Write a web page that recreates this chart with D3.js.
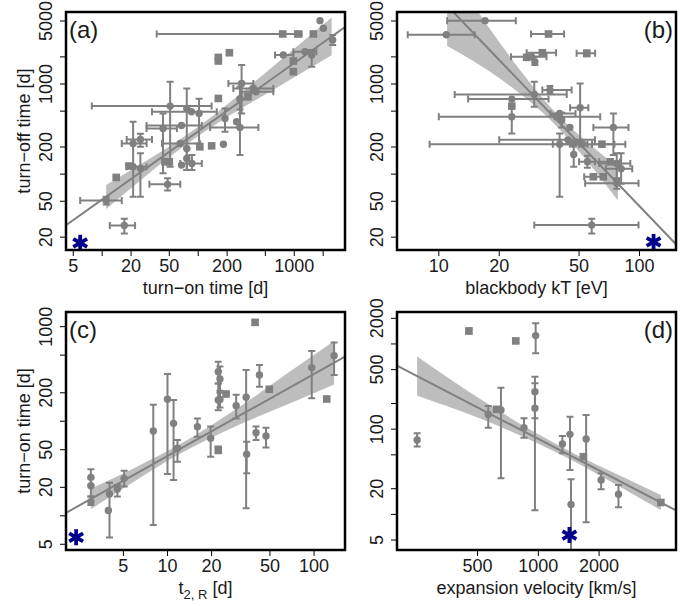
<!DOCTYPE html>
<html>
<head>
<meta charset="utf-8">
<script src="https://cdn.jsdelivr.net/npm/d3@7"></script>
<style>
  body { margin: 0; background: #fff; }
  svg { display: block; }
  text { font-family: "Liberation Sans", Arial, Helvetica, sans-serif; fill: #1a1a1a; }
</style>
</head>
<body>
<svg id="fig" width="693" height="606"></svg>
<script>
// points: [x, y, xlo, xhi, ylo, yhi, shape]  (null = no error bar), 'c' circle, 's' square

// (a) turn-on time vs turn-off time
const ptsA = [
  [11, 51, 5.9, 16, 46, 56, 'c'],
  [17, 27, 12, 22, 22, 32, 'c'],
  [14, 92, null, null, null, null, 's'],
  [21, 219, 16, 29, 56, 381, 'c'],
  [25, 243, 18, 33, 201, 280, 'c'],
  [19, 123, null, null, null, null, 's'],
  [21, 121, 18, 29, null, null, 'c'],
  [25, 116, null, null, 56, 170, 'c'],
  [48, 77, 31, 65, 66, 90, 'c'],
  [43, 321, 29, 60, 102, 472, 'c'],
  [51, 569, 7.8, 138, 121, 1060, 'c'],
  [85, 492, 33, 156, null, null, 'c'],
  [76, 536, null, null, 111, 894, 'c'],
  [102, 472, null, null, 219, 687, 'c'],
  [67, 347, 29, 109, null, null, 'c'],
  [50, 137, null, null, null, null, 's'],
  [45, 137, null, null, null, null, 's'],
  [65, 219, 42, 104, null, null, 'c'],
  [76, 193, null, null, null, null, 'c'],
  [104, 201, null, null, null, null, 's'],
  [138, 206, null, null, null, null, 's'],
  [183, 215, null, null, null, null, 'c'],
  [76, 149, null, null, 111, 193, 'c'],
  [86, 131, 65, 109, 111, 163, 'c'],
  [67, 126, null, null, null, null, 'c'],
  [162, 692, null, null, null, null, 's'],
  [190, 415, null, null, 295, 536, 'c'],
  [251, 381, null, null, null, null, 'c'],
  [272, 330, 133, 423, 163, 664, 'c'],
  [283, 1016, 206, 375, 472, 1625, 'c'],
  [375, 894, 232, 606, null, null, 'c'],
  [272, 687, null, null, 520, 933, 'c'],
  [330, 720, null, null, null, null, 's'],
  [400, 820, 272, 606, null, null, 'c'],
  [162, 1975, null, null, null, null, 's'],
  [162, 1800, null, null, null, null, 's'],
  [211, 2225, null, null, null, null, 's'],
  [758, 3590, 37, 1196, null, null, 's'],
  [1087, 3590, null, null, null, null, 's'],
  [1581, 3590, null, null, null, null, 's'],
  [1855, 5050, null, null, null, null, 'c'],
  [2010, 4150, null, null, null, null, 'c'],
  [2513, 3080, null, null, 2710, 3500, 'c'],
  [769, 2095, 631, 979, null, null, 'c'],
  [979, 1800, null, null, null, null, 's'],
  [979, 1370, null, null, null, null, 's'],
  [1295, 2285, 979, 1700, null, null, 'c'],
  [1520, 2095, null, null, 1555, 2385, 'c']
];

// (b) blackbody kT vs turn-off time
const ptsB = [
  [17, 5050, 11, 24.2, null, null, 'c'],
  [10.9, 3525, 7.0, 15.1, null, null, 'c'],
  [35.2, 3590, 28.8, 42.1, null, null, 's'],
  [54.6, 2190, 48.6, 60.1, 2030, 2360, 's'],
  [32.8, 2225, 27.4, 38.4, null, null, 's'],
  [29.0, 2010, 22.9, 34.4, null, null, 'c'],
  [30.1, 1771, null, null, 1625, 2010, 'c'],
  [27.4, 1975, null, null, null, null, 's'],
  [29.9, 767, 12.0, 43.4, 560, 1060, 'c'],
  [35.8, 857, 32.8, 45.9, 780, 950, 'c'],
  [23.1, 680, 14.0, 35.2, null, null, 'c'],
  [23.1, 569, null, null, null, null, 's'],
  [23.1, 434, null, null, 283, 560, 'c'],
  [50.6, 546, 45.1, 55.6, 239, 1016, 'c'],
  [38.6, 434, 10.0, 63.7, null, null, 'c'],
  [40, 470, 36, 48, null, null, 'c'],
  [41, 400, null, null, 330, 480, 'c'],
  [45, 330, null, null, null, null, 'c'],
  [74.1, 330, 58.9, 88.1, 163, 472, 'c'],
  [40, 215, 9.0, 50, 56, 282, 'c'],
  [44, 240, 20, 60, null, null, 'c'],
  [47, 215, 37, 55, null, null, 'c'],
  [52, 215, 45, 75, null, null, 'c'],
  [65, 215, 58, 85, null, null, 's'],
  [47, 165, null, null, 121, 219, 'c'],
  [55, 137, 50, 60, 118, 160, 'c'],
  [71.5, 137, 63, 80, null, null, 's'],
  [77, 131, 63, 90, 86, 170, 'c'],
  [81, 115, 68, 92, 78, 170, 'c'],
  [58.9, 93.5, 53, 65, null, null, 's'],
  [66, 93.5, null, null, null, null, 's'],
  [77, 79, 53.6, 98.9, 69, 90, 'c'],
  [57.8, 27.2, 29.9, 98.9, 22, 32, 'c']
];

// (c) t2,R vs turn-on time
const ptsC = [
  [39.6, 1111, null, null, 1050, 1175, 's'],
  [137, 493, null, null, 308, 678, 'c'],
  [96.4, 369, null, null, 175, 553, 'c'],
  [122, 172, null, null, null, null, 's'],
  [49.5, 218, null, null, null, null, 's'],
  [42.4, 308, null, null, 232, 394, 'c'],
  [40.2, 75.7, null, null, 63.4, 87.8, 'c'],
  [47, 69.8, null, null, 52.6, 85.5, 'c'],
  [34.4, 179, null, null, 12.0, 348, 'c'],
  [34.7, 44.7, null, null, 28.2, 60.8, 'c'],
  [29.4, 146, null, null, 107, 190, 'c'],
  [22.2, 334, null, null, 250, 426, 'c'],
  [22.8, 280, null, null, 200, 380, 'c'],
  [22.2, 168, null, null, 131, 250, 'c'],
  [25.1, 194, null, null, null, null, 's'],
  [22.8, 170, null, null, 140, 210, 'c'],
  [22.2, 49.7, null, null, 46, 54, 's'],
  [19.7, 66, null, null, 42, 88, 'c'],
  [16.0, 87.7, null, null, 68.7, 107, 'c'],
  [11.7, 51.8, null, null, 37.4, 63.4, 'c'],
  [11.0, 95, null, null, 23.9, 168, 'c'],
  [10.0, 171, null, null, 27.7, 316, 'c'],
  [8.0, 78.9, null, null, 8.0, 149, 'c'],
  [5.06, 24.9, null, null, 20.4, 30, 'c'],
  [4.55, 19.2, null, null, 16, 21.2, 'c'],
  [4.02, 17.0, null, null, 5.9, 22.4, 'c'],
  [3.95, 11.4, null, null, null, null, 'c'],
  [3.0, 25.5, null, null, 21, 31, 'c'],
  [3.0, 20.8, null, null, 16, 25, 'c'],
  [3.0, 14.1, null, null, 13, 16, 'c']
];

// (d) expansion velocity vs turn-on time
const ptsD = [
  [251, 74.6, null, null, 62.4, 89.3, 'c'],
  [453, 1420, null, null, 1330, 1520, 's'],
  [773, 1085, null, null, 1030, 1145, 's'],
  [970, 1253, null, null, 777, 1746, 'c'],
  [962, 275, null, null, 134, 413, 'c'],
  [962, 176, null, null, 11.2, 345, 'c'],
  [565, 149, null, null, 104, 187, 'c'],
  [621, 171, null, null, null, null, 's'],
  [653, 168, null, null, 26.5, 307, 'c'],
  [849, 104, null, null, 79.4, 134, 'c'],
  [1316, 67, null, null, 52, 83.2, 'c'],
  [1435, 86.9, null, null, 33.2, 140, 'c'],
  [1671, 47.5, null, null, null, null, 's'],
  [1725, 76.8, null, null, 8.07, 147, 'c'],
  [1452, 13.1, null, null, 1, 25.8, 'c'],
  [2047, 25.4, null, null, 19.7, 30.3, 'c'],
  [2495, 17.2, null, null, 12.1, 22.1, 'c'],
  [4046, 13.8, null, null, null, null, 's']
];

// the highlighted object (blue star) in each panel
const starA = [5.9, 17.3];
const starB = [117.5, 17.7];
const starC = [2.38, 5.93];
const starD = [1426, 5.72];

// fits in log10 space: [intercept, slope]
const fitA = [0.962, 0.757];
const fitB = [6.288, -2.322];
const fitC = [0.764, 0.868];
const fitD = [5.572, -1.229];

// confidence bands: [x, lower, upper]
const bandA = [[11, 41, 76], [30, 100, 144], [76, 216, 273], [200, 431, 594], [600, 860, 1567], [2450, 2080, 5470]];
const bandB = [[11, 2636, 20940], [20, 1163, 2927], [38, 354, 489], [60, 109, 191], [78, 51, 121]];
const bandC = [[3, 11.7, 19.4], [6, 23.4, 32.3], [12, 44.7, 56.3], [30, 90, 137], [70, 157, 343], [137, 245, 705]];
const bandD = [[251, 246, 713], [500, 137, 237], [1000, 67.6, 87], [1500, 42.1, 51.8], [2500, 21.5, 28.9], [4046, 11.2, 16.9]];

// axis ticks
const xTicksA = [5, 10, 20, 50, 100, 200, 500, 1000, 2000], xLabA = [5, 20, 50, 200, 1000];
const yTicksAB = [20, 50, 100, 200, 500, 1000, 2000, 5000], yLabAB = [20, 50, 200, 1000, 5000];
const xTicksB = [10, 20, 50, 100], xLabB = [10, 20, 50, 100];
const xTicksC = [5, 10, 20, 50, 100], xLabC = [5, 10, 20, 50, 100];
const yTicksC = [5, 10, 20, 50, 100, 200, 500, 1000], yLabC = [5, 20, 50, 200, 1000];
const xTicksD = [500, 1000, 2000], xLabD = [500, 1000, 2000];
const yTicksD = [5, 10, 20, 50, 100, 200, 500, 1000, 2000], yLabD = [5, 20, 100, 500, 2000];

const GREY = "#808080";
const BAND = "#bdbdbd";
const NAVY = "#00008b";

const svg = d3.select("#fig");

function drawPanel(p) {
  const x = d3.scaleLog().domain(p.xd).range([p.left, p.left + 279]);
  const y = d3.scaleLog().domain(p.yd).range([p.top + 238, p.top]);
  const g = svg.append("g");
  const clipId = "clip" + p.tag;
  svg.append("clipPath").attr("id", clipId)
    .append("rect").attr("x", p.left).attr("y", p.top).attr("width", 279).attr("height", 238);
  const inner = g.append("g").attr("clip-path", "url(#" + clipId + ")");

  // band
  const area = d3.area()
    .x(d => x(d[0])).y0(d => y(d[1])).y1(d => y(d[2]))
    .curve(d3.curveMonotoneX);
  inner.append("path").datum(p.band).attr("d", area).attr("fill", BAND);

  // fitted line across the full panel
  const xs = x.domain();
  inner.append("line")
    .attr("x1", x(xs[0])).attr("y1", y(Math.pow(10, p.fit[0] + p.fit[1] * Math.log10(xs[0]))))
    .attr("x2", x(xs[1])).attr("y2", y(Math.pow(10, p.fit[0] + p.fit[1] * Math.log10(xs[1]))))
    .attr("stroke", GREY).attr("stroke-width", 2);

  // error bars
  const cap = 3.5;
  p.pts.forEach(d => {
    const cx = x(d[0]), cy = y(d[1]);
    if (d[2] != null) {
      const a = x(d[2]), b = x(d[3]);
      inner.append("path")
        .attr("d", `M${a},${cy}H${b}M${a},${cy - cap}V${cy + cap}M${b},${cy - cap}V${cy + cap}`)
        .attr("stroke", GREY).attr("stroke-width", 2).attr("fill", "none");
    }
    if (d[4] != null) {
      const a = y(d[4]), b = y(d[5]);
      inner.append("path")
        .attr("d", `M${cx},${a}V${b}M${cx - cap},${a}H${cx + cap}M${cx - cap},${b}H${cx + cap}`)
        .attr("stroke", GREY).attr("stroke-width", 2).attr("fill", "none");
    }
  });
  // symbols
  p.pts.forEach(d => {
    const cx = x(d[0]), cy = y(d[1]);
    if (d[6] === 's') {
      inner.append("rect").attr("x", cx - 3.8).attr("y", cy - 3.8)
        .attr("width", 7.6).attr("height", 7.6).attr("fill", GREY);
    } else {
      inner.append("circle").attr("cx", cx).attr("cy", cy).attr("r", 3.7).attr("fill", GREY);
    }
  });

  // blue star
  const sx = x(p.star[0]), sy = y(p.star[1]), r = 8;
  let sp = "";
  [90, 30, 150].forEach(deg => {
    const t = deg * Math.PI / 180;
    sp += `M${sx - r * Math.cos(t)},${sy - r * Math.sin(t)}L${sx + r * Math.cos(t)},${sy + r * Math.sin(t)}`;
  });
  g.append("path").attr("d", sp).attr("stroke", NAVY).attr("stroke-width", 3.8).attr("fill", "none");

  // box
  g.append("rect").attr("x", p.left).attr("y", p.top).attr("width", 279).attr("height", 238)
    .attr("fill", "none").attr("stroke", "#000").attr("stroke-width", 2.5);

  // x axis
  const bot = p.top + 238;
  p.xTicks.forEach(t => {
    g.append("line").attr("x1", x(t)).attr("x2", x(t)).attr("y1", bot).attr("y2", bot + 6)
      .attr("stroke", "#000").attr("stroke-width", 1);
  });
  p.xLab.forEach(t => {
    g.append("text").attr("x", x(t)).attr("y", bot + 22).attr("text-anchor", "middle")
      .attr("font-size", 18).text(t);
  });
  // y axis
  p.yTicks.forEach(t => {
    g.append("line").attr("x1", p.left - 6).attr("x2", p.left).attr("y1", y(t)).attr("y2", y(t))
      .attr("stroke", "#000").attr("stroke-width", 1);
  });
  p.yLab.forEach(t => {
    g.append("text").attr("transform", `translate(${p.left - 14},${y(t)}) rotate(-90)`)
      .attr("text-anchor", "middle").attr("font-size", 18).text(t);
  });

  // x title
  const xt = g.append("text").attr("x", p.left + 139.5).attr("y", bot + 44)
    .attr("text-anchor", "middle").attr("font-size", 18);
  if (p.xSub) {
    xt.append("tspan").text(p.xTitle[0]);
    xt.append("tspan").attr("dy", 5).attr("font-size", 13).text(p.xTitle[1]);
    xt.append("tspan").attr("dy", -5).text(p.xTitle[2]);
  } else {
    xt.text(p.xTitle);
  }
  if (p.yTitle) {
    g.append("text").attr("transform", `translate(${p.left - 36},${p.top + 119}) rotate(-90)`)
      .attr("text-anchor", "middle").attr("font-size", 18).text(p.yTitle);
  }
  // panel tag
  g.append("text")
    .attr("x", p.tagRight ? p.left + 276 : p.left + 3)
    .attr("y", p.top + 26)
    .attr("text-anchor", p.tagRight ? "end" : "start")
    .attr("font-size", 24).text("(" + p.tag + ")");
}

drawPanel({
  tag: "a", left: 66, top: 12, xd: [4.2, 3376], yd: [14.4, 6295],
  pts: ptsA, star: starA, fit: fitA, band: bandA,
  xTicks: xTicksA, xLab: xLabA, yTicks: yTicksAB, yLab: yLabAB,
  xTitle: "turn\u2212on time [d]", yTitle: "turn\u2212off time [d]"
});
drawPanel({
  tag: "b", tagRight: true, left: 397, top: 12, xd: [6.19, 152], yd: [14.4, 6295],
  pts: ptsB, star: starB, fit: fitB, band: bandB,
  xTicks: xTicksB, xLab: xLabB, yTicks: yTicksAB, yLab: yLabAB,
  xTitle: "blackbody kT [eV]"
});
drawPanel({
  tag: "c", left: 66, top: 312, xd: [2.03, 162.6], yd: [4.35, 1429],
  pts: ptsC, star: starC, fit: fitC, band: bandC,
  xTicks: xTicksC, xLab: xLabC, yTicks: yTicksC, yLab: yLabC,
  xSub: true, xTitle: ["t", "2, R", " [d]"], yTitle: "turn\u2212on time [d]"
});
drawPanel({
  tag: "d", tagRight: true, left: 397, top: 312, xd: [199.5, 4808], yd: [3.82, 2371],
  pts: ptsD, star: starD, fit: fitD, band: bandD,
  xTicks: xTicksD, xLab: xLabD, yTicks: yTicksD, yLab: yLabD,
  xTitle: "expansion velocity [km/s]"
});
</script>
</body>
</html>
